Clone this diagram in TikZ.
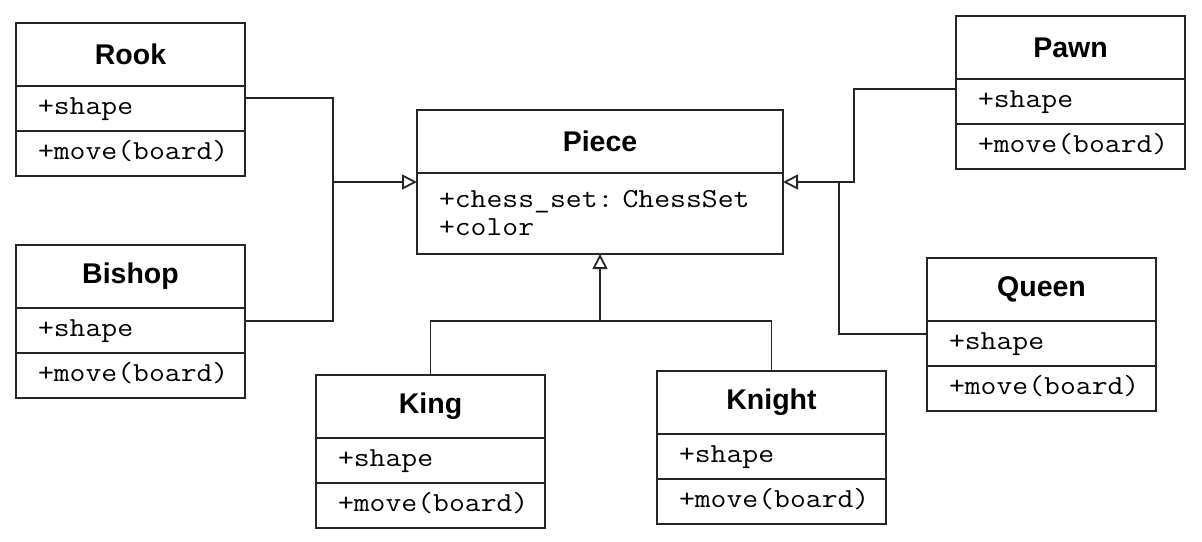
\documentclass[tikz,border=0pt]{standalone}
\usepackage{fontspec}
\setmainfont{Liberation Sans}
\setmonofont[FakeStretch=1.12]{Latin Modern Mono}
\usetikzlibrary{arrows.meta,calc}
\tikzset{
  cls/.style={draw=black!85, line width=1.8pt, anchor=north west, inner sep=0pt, outer sep=0pt},
  ttl/.style={cls, minimum width=#1, minimum height=63pt, align=center,
     font=\fontsize{28.5}{30}\selectfont\bfseries},
  row/.style={cls, minimum width=#1, text width=#1-44pt, inner xsep=22pt, minimum height=45pt,
     align=left, font=\fontsize{27.5}{30}\selectfont\ttfamily},
  conn/.style={draw=black!85, line width=1.8pt},
  inh/.style={conn, -{Triangle[open, length=15pt, width=15pt, line width=1.8pt]}},
}
\newcommand\umlcls[5]{% name, x, y, title, attribute
  \node[ttl=229pt] (#1-t) at (#2,#3) {#4};
  \node[row=229pt] (#1-a) at (#1-t.south west) {\strut#5};
  \node[row=229pt] (#1-m) at (#1-a.south west) {\strut+move(board)};
}
\begin{document}
\begin{tikzpicture}[x=1pt,y=-1pt]
\useasboundingbox (0,0) rectangle (1202,541);
\umlcls{rook}{16}{23}{Rook}{+shape}
\umlcls{bishop}{16}{245}{Bishop}{+shape}
\umlcls{pawn}{956}{16}{Pawn}{+shape}
\umlcls{queen}{927}{258}{Queen}{+shape}
\umlcls{king}{316}{375}{King}{+shape}
\umlcls{knight}{657}{371}{Knight}{+shape}
\node[ttl=366pt] (piece-t) at (417,110) {Piece};
\node[row=366pt, minimum height=81pt] (piece-a) at (piece-t.south west)
  {+chess\_set:~ChessSet\\[-2pt]+color};
% junctions
\coordinate (jl) at (333,182);
\coordinate (jp) at (854,182);
\coordinate (jr) at (839,182);
\coordinate (jb) at (600,321);
\coordinate (pl) at (piece-a.west |- jl);
\coordinate (pr) at (piece-a.east |- jr);
% left
\draw[conn] ($(rook-a.north east)+(0,12)$) -| (jl);
\draw[conn] ($(bishop-a.north east)+(0,13)$) -| (jl);
\draw[inh] (jl) -- (pl);
% right
\draw[conn] ($(pawn-a.north west)+(0,10)$) -| (jp) -- (jr);
\draw[conn] ($(queen-a.north west)+(0,13)$) -| (jr);
\draw[inh] (jr) -- (pr);
% bottom
\draw[conn] (king-t.north) |- (jb) -| (knight-t.north);
\draw[inh] (jb) -- (piece-a.south);
\end{tikzpicture}
\end{document}
